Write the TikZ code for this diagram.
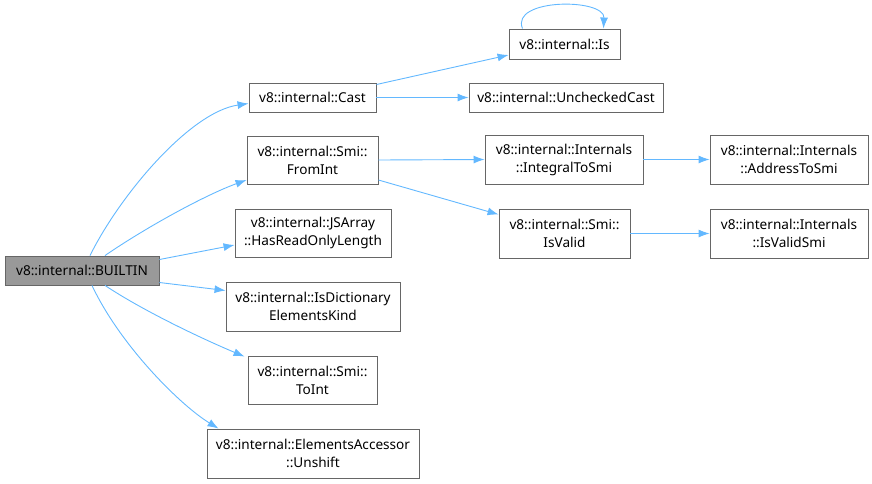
\documentclass[tikz,border=0pt]{standalone}
\usepackage{fontspec}
\setmainfont{Noto Sans}
\usetikzlibrary{arrows.meta,calc}
\definecolor{edgec}{HTML}{63B8FF}
\definecolor{boxc}{HTML}{666666}
\definecolor{rootfill}{HTML}{999999}
\tikzset{
  fn/.style={draw=boxc, line width=0.9pt, fill=white, rectangle, inner sep=0pt, align=center, font=\fontsize{13.6}{18}\selectfont, text=black},
  rootbox/.style={fn, fill=rootfill},
  edge/.style={draw=edgec, line width=0.9pt, -{Latex[length=11pt,width=8pt]}},
}
\newcommand{\fnbox}[6]{\node[#6, minimum width=#3pt-#1pt, minimum height=#4pt-#2pt] (#5) at ({(#1+#3)/2},{(#2+#4)/2}) }
\begin{document}
\begin{tikzpicture}[x=1pt,y=-1pt]
\useasboundingbox (0,0) rectangle (872,483);
\fnbox{5}{256}{159}{285}{b}{rootbox} {v8::internal::BUILTIN};
\fnbox{249}{83}{376}{112}{cast}{fn} {v8::internal::Cast};
\fnbox{509}{29}{620}{59}{is}{fn} {v8::internal::Is};
\fnbox{469}{83}{663}{112}{uc}{fn} {v8::internal::UncheckedCast};
\fnbox{247}{136}{378}{184}{fromint}{fn} {v8::internal::Smi::\\FromInt};
\fnbox{485}{135}{643}{184}{its}{fn} {v8::internal::Internals\\::IntegralToSmi};
\fnbox{710}{135}{868}{184}{ats}{fn} {v8::internal::Internals\\::AddressToSmi};
\fnbox{499}{209}{630}{258}{isvalid}{fn} {v8::internal::Smi::\\IsValid};
\fnbox{710}{209}{868}{258}{ivs}{fn} {v8::internal::Internals\\::IsValidSmi};
\fnbox{235}{209}{391}{257}{hrol}{fn} {v8::internal::JSArray\\::HasReadOnlyLength};
\fnbox{226}{282}{400}{331}{idek}{fn} {v8::internal::IsDictionary\\ElementsKind};
\fnbox{248}{356}{377}{404}{toint}{fn} {v8::internal::Smi::\\ToInt};
\fnbox{207}{429}{419}{478}{unshift}{fn} {v8::internal::ElementsAccessor\\::Unshift};

\draw[edge] ($(b.north)+(8,0)$) .. controls (120,195) and (190,112) .. ($(cast.west)+(0,6)$);
\draw[edge] ($(b.north)+(23,0)$) .. controls (145,228) and (205,195) .. ($(fromint.west)+(0,20)$);
\draw[edge] ($(b.east)+(0,-11)$) -- ($(hrol.west)+(0,12)$);
\draw[edge] ($(b.east)+(0,12)$) -- ($(idek.west)+(0,-16)$);
\draw[edge] ($(b.south)+(23,0)$) .. controls (145,312) and (205,340) .. ($(toint.north west)+(-3,1)$);
\draw[edge] ($(b.south)+(10,0)$) .. controls (120,345) and (180,405) .. ($(unshift.north west)+(12,0)$);
\draw[edge] ($(cast.east)+(0,-13)$) -- ($(is.west)+(0,11)$);
\draw[edge] (cast.east) -- (uc.west);
\draw[edge] ($(is.north)+(-42,0)$) .. controls (510,-2) and (605,-2) .. ($(is.north)+(39,0)$);
\draw[edge] (fromint.east) -- (its.west);
\draw[edge] ($(fromint.east)+(0,20)$) -- ($(isvalid.west)+(0,-19)$);
\draw[edge] (its.east) -- (ats.west);
\draw[edge] (isvalid.east) -- (ivs.west);
\end{tikzpicture}
\end{document}
